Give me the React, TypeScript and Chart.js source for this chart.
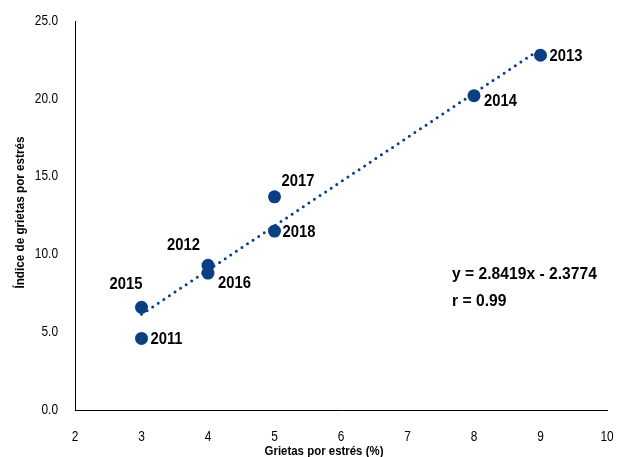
import React, { useEffect, useRef } from "react";
import { Chart, registerables } from "chart.js";

Chart.register(...registerables);

const years = ["2011", "2012", "2013", "2014", "2015", "2016", "2017", "2018"];
const xValues = [3, 4, 9, 8, 3, 4, 5, 5];
const yValues = [4.6, 9.3, 22.8, 20.2, 6.6, 8.8, 13.7, 11.5];
const trendX = [3, 9];
const trendY = [6.148, 23.2];
const equationText = "y = 2.8419x - 2.3774";
const rText = "r = 0.99";
const xTitle = "Grietas por estrés (%)";
const yTitle = "Índice de grietas por estrés";

// label offsets (dx, dy, align) per year
const labelPlacement: Record<string, [number, number, CanvasTextAlign]> = {
  "2011": [9, 1, "left"],
  "2012": [-8, -20, "right"],
  "2013": [9, 1, "left"],
  "2014": [10, 6, "left"],
  "2015": [1, -23, "right"],
  "2016": [10, 10, "left"],
  "2017": [7, -16, "left"],
  "2018": [8, 1, "left"],
};

const FONT = "'Liberation Sans', Arial, sans-serif";
const BLUE = "#0A3F84";

function drawText(
  ctx: CanvasRenderingContext2D,
  text: string,
  x: number,
  y: number,
  align: CanvasTextAlign,
  sx: number,
  rot = 0
) {
  ctx.save();
  ctx.translate(x, y);
  if (rot) ctx.rotate(rot);
  ctx.scale(sx, 1);
  ctx.textAlign = align;
  ctx.textBaseline = "middle";
  ctx.fillText(text, 0, 0);
  ctx.restore();
}

export default function App() {
  const ref = useRef<HTMLCanvasElement>(null);
  useEffect(() => {
    if (!ref.current) return;
    const textPlugin = {
      id: "texts",
      afterDraw(chart: any) {
        const ctx = chart.ctx as CanvasRenderingContext2D;
        const xs = chart.scales.x;
        const ys = chart.scales.y;
        const area = chart.chartArea;
        ctx.save();
        ctx.fillStyle = "#000";
        // tick labels
        ctx.font = `14px ${FONT}`;
        ys.ticks.forEach((t: any) => {
          drawText(ctx, Number(t.value).toFixed(1), area.left - 17, ys.getPixelForValue(t.value), "right", 0.85);
        });
        xs.ticks.forEach((t: any) => {
          drawText(ctx, String(t.value), xs.getPixelForValue(t.value), area.bottom + 27, "center", 0.85);
        });
        // axis titles
        ctx.font = `bold 13px ${FONT}`;
        drawText(ctx, xTitle, area.left + 249, area.bottom + 41, "center", 0.88);
        drawText(ctx, yTitle, 12, (area.top + area.bottom) / 2 - 3, "center", 0.9, -Math.PI / 2);
        // year labels
        ctx.font = `bold 17px ${FONT}`;
        years.forEach((yr, i) => {
          const px = xs.getPixelForValue(xValues[i]);
          const py = ys.getPixelForValue(yValues[i]);
          const [dx, dy, al] = labelPlacement[yr];
          drawText(ctx, yr, px + dx, py + dy, al, 0.87);
        });
        // equation
        const ex = xs.getPixelForValue(7.67);
        drawText(ctx, equationText, ex, ys.getPixelForValue(8.7), "left", 0.92);
        drawText(ctx, rText, ex, ys.getPixelForValue(6.96), "left", 0.92);
        ctx.restore();
      },
    };
    const chart = new Chart(ref.current, {
      type: "scatter",
      data: {
        datasets: [
          {
            label: "trend",
            data: trendX.map((x, i) => ({ x, y: trendY[i] })),
            showLine: true,
            borderColor: BLUE,
            borderWidth: 3,
            borderDash: [0, 6.7],
            borderCapStyle: "round",
            pointRadius: 0,
            order: 2,
          } as any,
          {
            label: "data",
            data: xValues.map((x, i) => ({ x, y: yValues[i] })),
            backgroundColor: BLUE,
            borderColor: BLUE,
            borderWidth: 0,
            pointRadius: 6.5,
            order: 1,
          },
        ],
      },
      options: {
        animation: false,
        responsive: false,
        maintainAspectRatio: false,
        layout: { padding: { left: 0, right: 7, top: 13, bottom: 0 } },
        plugins: { legend: { display: false }, tooltip: { enabled: false } },
        scales: {
          x: {
            type: "linear",
            min: 2,
            max: 10,
            ticks: { stepSize: 1, display: false },
            grid: { display: false, drawTicks: false },
            border: { display: true, color: "#000", width: 1 },
            afterFit(scale: any) {
              scale.height = 47;
            },
          },
          y: {
            type: "linear",
            min: 0,
            max: 25,
            ticks: { stepSize: 5, display: false },
            grid: { display: false, drawTicks: false },
            border: { display: true, color: "#000", width: 1 },
            afterFit(scale: any) {
              scale.width = 67;
            },
          },
        },
      },
      plugins: [textPlugin],
    });
    return () => chart.destroy();
  }, []);
  return (
    <div style={{ width: 606, height: 449 }}>
      <canvas ref={ref} width={606} height={449} style={{ display: "block" }} />
    </div>
  );
}
